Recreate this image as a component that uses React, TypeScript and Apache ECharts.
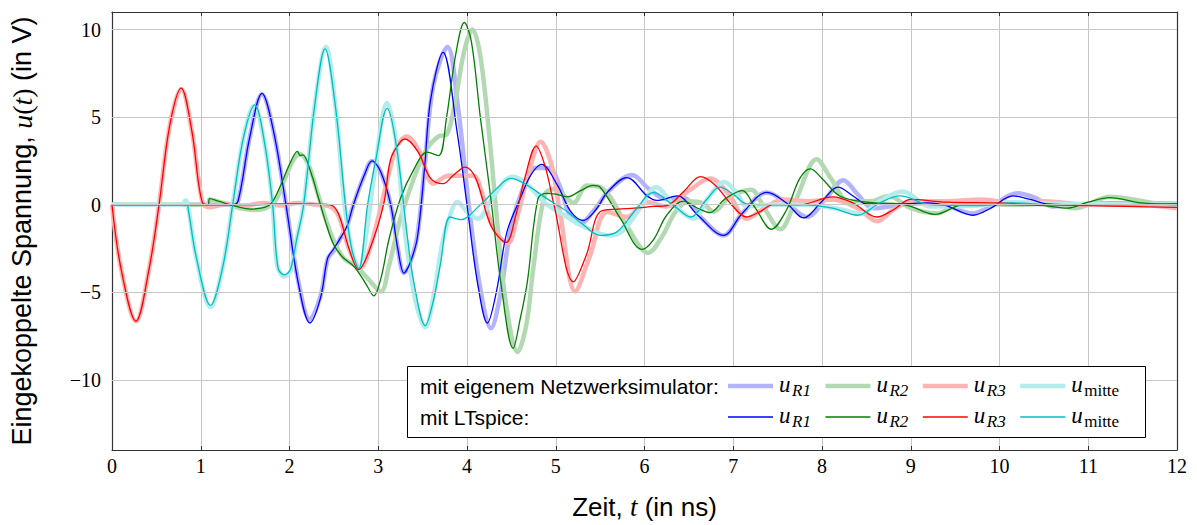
import React, { useEffect, useRef } from "react";
import * as echarts from "echarts";

// time in ns, voltage in V
const uR1Sim = [[0,0],[1.35,0],[1.42,0.2],[1.55,3.8],[1.69,6.3],[1.82,4.2],[1.96,0],[2.1,-4.4],[2.23,-6.55],[2.35,-5.2],[2.43,-3.1],[2.5,-2.6],[2.58,-1.85],[2.65,-1.2],[2.72,0],[2.84,1.65],[2.93,2.5],[3.03,1.85],[3.14,0],[3.22,-2.5],[3.29,-3.9],[3.36,-3.3],[3.44,-1.8],[3.52,2],[3.62,6.8],[3.78,9.0],[3.9,5.5],[4.02,0],[4.14,-4.5],[4.27,-7.05],[4.37,-5.3],[4.5,-1.2],[4.65,1.2],[4.75,2.1],[4.92,2.1],[5.05,1.0],[5.15,-0.5],[5.27,-1.1],[5.45,-0.2],[5.6,0.8],[5.86,1.7],[6.05,0.9],[6.25,0.3],[6.43,0.4],[6.65,-0.8],[6.89,-1.75],[7.1,-0.5],[7.38,0.7],[7.6,0.1],[7.83,-0.7],[8.05,0.4],[8.24,1.4],[8.4,0.6],[8.58,-0.2],[8.88,0],[9.2,0.1],[9.4,-0.05],[9.7,-0.5],[9.9,-0.1],[10.2,0.65],[10.4,0.4],[10.6,-0.1],[11,0.05],[11.5,0.1],[12,0.05]];
const uR2Sim = [[0,0],[1.08,0],[1.1,0.3],[1.25,0.1],[1.45,-0.2],[1.6,-0.3],[1.75,-0.15],[1.85,0.3],[1.95,1.5],[2.05,2.6],[2.12,2.9],[2.22,2.2],[2.32,0.6],[2.42,-1.0],[2.52,-2.3],[2.62,-3.1],[2.75,-3.5],[2.88,-4.2],[3.03,-4.95],[3.12,-3.5],[3.25,-0.8],[3.4,1.5],[3.55,3.2],[3.68,3.9],[3.77,4.0],[3.87,6.0],[3.97,8.8],[4.06,10.0],[4.15,8.5],[4.25,4.0],[4.35,-1.5],[4.45,-6.0],[4.57,-8.4],[4.67,-6.8],[4.75,-3.5],[4.88,0.6],[5.0,0.9],[5.1,0.5],[5.2,0.1],[5.35,1.1],[5.5,1.0],[5.62,0.4],[5.8,-1.2],[6.04,-2.75],[6.2,-1.8],[6.35,-0.4],[6.5,0.2],[6.65,0.1],[6.78,-0.4],[6.95,0.4],[7.2,0.85],[7.35,-0.2],[7.53,-1.4],[7.7,0.2],[7.94,2.6],[8.1,1.5],[8.3,0.2],[8.55,0.2],[8.75,0.5],[9.0,-0.2],[9.3,-0.5],[9.55,0.1],[9.8,0.05],[10.2,0],[10.6,0.05],[10.85,-0.2],[11.25,0.45],[11.5,0.3],[11.8,0.05],[12,0]];
const uR3Sim = [[0,0],[0.1,-3.6],[0.27,-6.65],[0.42,-3.6],[0.53,0],[0.65,4.5],[0.78,6.6],[0.9,4.2],[1.02,0.1],[1.1,-0.15],[1.3,0.05],[1.5,-0.05],[1.7,0.1],[1.9,-0.05],[2.1,0.1],[2.3,0],[2.45,-0.1],[2.55,-0.6],[2.67,-2.5],[2.8,-3.6],[2.9,-2.6],[3.05,0.3],[3.2,3.2],[3.32,3.9],[3.47,3.0],[3.62,1.2],[3.79,1.65],[3.93,1.65],[4.07,1.65],[4.18,0.5],[4.3,-1.35],[4.46,-2.2],[4.57,-0.6],[4.68,1.5],[4.83,3.6],[4.95,2.3],[5.05,-0.5],[5.22,-4.95],[5.38,-3.0],[5.58,-0.4],[5.8,-0.7],[6.03,0.15],[6.25,-0.1],[6.5,0.8],[6.74,1.5],[6.95,0.6],[7.15,-0.8],[7.35,-0.2],[7.56,0.3],[7.85,0.2],[8.12,0.3],[8.4,-0.2],[8.62,-0.95],[8.8,-0.3],[9.0,0.2],[9.4,0.2],[9.8,0.3],[10.2,0.05],[10.5,0.2],[11,0],[11.5,0],[12,-0.2]];
const uMitteSim = [[0,0],[0.78,0],[0.83,0.25],[0.86,-0.2],[0.95,-3.0],[1.11,-5.85],[1.25,-3.5],[1.36,0],[1.48,3.8],[1.6,5.65],[1.72,3.5],[1.81,0],[1.86,-3.4],[1.94,-4.1],[2.01,-3.8],[2.08,-2.0],[2.16,0],[2.28,5.5],[2.41,9.0],[2.52,5.5],[2.62,0],[2.7,-2.5],[2.78,-3.7],[2.87,-1.5],[2.95,1.5],[3.1,5.8],[3.2,3.6],[3.3,-1.5],[3.42,-5.5],[3.53,-7.0],[3.63,-5.0],[3.73,-2.0],[3.83,-0.3],[3.89,0.15],[4.0,-0.4],[4.12,-0.8],[4.3,0.5],[4.51,1.6],[4.65,1.3],[4.83,0.35],[4.9,0],[5.1,-0.6],[5.3,-1.2],[5.6,-1.75],[5.75,-1.5],[5.95,-0.2],[6.13,1.0],[6.33,0],[6.55,-0.8],[6.72,0.4],[6.9,1.3],[7.05,0.6],[7.15,-0.1],[7.4,0],[7.8,0],[8.15,-0.2],[8.44,-0.5],[8.65,0.2],[8.91,0.75],[9.22,-0.1],[9.75,-0.05],[10.15,0.15],[10.6,0.05],[12,0]];

const uR1Lt = [[0,0],[1.35,0],[1.42,0.2],[1.55,3.8],[1.69,6.35],[1.82,4.2],[1.96,0],[2.1,-4.5],[2.23,-6.75],[2.35,-5.3],[2.43,-3.05],[2.5,-2.5],[2.58,-1.85],[2.65,-1.2],[2.72,0],[2.84,1.65],[2.93,2.5],[3.03,1.85],[3.14,0],[3.22,-2.5],[3.29,-3.9],[3.36,-3.3],[3.44,-1.9],[3.52,2],[3.59,6],[3.73,8.7],[3.89,4.1],[4.0,0],[4.12,-4.5],[4.23,-6.75],[4.33,-5.0],[4.45,-1.55],[4.6,0.35],[4.72,1.7],[4.84,2.3],[5.02,1.1],[5.17,-0.4],[5.31,-0.9],[5.45,-0.3],[5.58,0.7],[5.8,1.55],[6.03,0.5],[6.14,0.25],[6.37,0.5],[6.6,-0.6],[6.89,-1.75],[7.1,-0.5],[7.38,0.7],[7.6,0.1],[7.79,-0.75],[8.0,0.2],[8.18,1.0],[8.35,0.5],[8.5,0.05],[8.88,0.05],[9.2,0.1],[9.4,-0.05],[9.7,-0.6],[9.9,-0.2],[10.15,0.5],[10.35,0.3],[10.53,0.05],[11,0],[12,0.05]];
const uR2Lt = [[0,0],[1.08,0],[1.1,0.35],[1.2,0.2],[1.4,-0.1],[1.56,-0.25],[1.72,-0.15],[1.8,0.1],[1.9,1.1],[2.0,2.3],[2.09,3.05],[2.12,2.8],[2.15,2.85],[2.25,1.7],[2.32,0.5],[2.42,-1.2],[2.5,-2.3],[2.6,-3.0],[2.7,-3.4],[2.77,-3.8],[2.87,-4.6],[2.95,-5.2],[3.03,-4.2],[3.12,-2.0],[3.25,0.35],[3.4,2.0],[3.55,3.0],[3.68,2.8],[3.77,5.0],[3.87,8.5],[3.97,10.4],[4.05,9.3],[4.15,5.0],[4.27,0.3],[4.38,-4.4],[4.52,-8.2],[4.6,-6.5],[4.68,-4.4],[4.8,0.35],[4.9,0.65],[5.0,0.6],[5.13,0.45],[5.28,0.8],[5.42,1.1],[5.5,1.0],[5.73,-0.8],[5.97,-2.55],[6.1,-2.0],[6.25,-0.6],[6.44,0.2],[6.6,-0.2],[6.74,-0.45],[6.9,0.3],[7.1,0.8],[7.25,-0.2],[7.43,-1.4],[7.6,-0.3],[7.75,1.5],[7.87,2.05],[8.0,1.5],[8.2,0.5],[8.5,0.15],[8.88,0.05],[9.0,-0.1],[9.27,-0.55],[9.6,0],[10,0],[10.5,-0.05],[10.76,-0.2],[11.0,0.15],[11.24,0.4],[11.6,0.1],[12,0]];
const uR3Lt = [[0,0],[0.1,-3.6],[0.27,-6.65],[0.42,-3.6],[0.53,0],[0.65,4.5],[0.78,6.65],[0.9,4.2],[1.02,0.1],[1.1,0],[1.5,0],[2.0,0.05],[2.45,0],[2.55,-0.5],[2.67,-2.5],[2.78,-3.7],[2.9,-2.6],[3.06,0],[3.14,2.6],[3.25,3.6],[3.3,3.75],[3.45,3.0],[3.59,1.5],[3.73,1.2],[3.85,1.7],[3.98,2.15],[4.1,1.5],[4.27,-1.2],[4.44,-2.15],[4.55,-0.6],[4.65,1.5],[4.78,3.35],[4.88,2.2],[4.98,0],[5.2,-4.4],[5.35,-2.8],[5.5,-0.4],[5.7,-0.25],[5.88,-0.2],[6.1,-0.1],[6.25,-0.05],[6.45,0.8],[6.63,1.6],[6.8,1.1],[6.98,0],[7.15,-0.7],[7.3,-0.4],[7.45,0],[7.75,0],[8.12,0.45],[8.35,0.1],[8.62,-0.7],[8.8,-0.3],[9.0,0.3],[9.4,0.15],[10,0.1],[10.5,0],[11,-0.05],[12,-0.15]];
const uMitteLt = [[0,0],[0.84,0],[0.86,-0.3],[0.95,-3.0],[1.11,-5.75],[1.25,-3.5],[1.36,0],[1.48,3.8],[1.61,5.7],[1.72,3.5],[1.81,0],[1.87,-3.6],[1.94,-4.0],[2.01,-3.7],[2.08,-2.0],[2.16,0],[2.28,5.5],[2.4,8.9],[2.52,5.5],[2.63,0],[2.7,-2.5],[2.78,-3.65],[2.88,0],[2.97,2.5],[3.1,5.5],[3.2,3.5],[3.33,-1.9],[3.4,-4.4],[3.53,-6.9],[3.62,-5.5],[3.7,-3.4],[3.81,-0.7],[3.93,-0.85],[4.15,0],[4.35,1.0],[4.49,1.5],[4.65,1.2],[4.9,0.35],[5.13,-0.4],[5.3,-1.1],[5.5,-1.75],[5.69,-1.55],[5.9,-0.3],[6.1,0.7],[6.33,-0.05],[6.52,-0.7],[6.7,0.3],[6.85,1.0],[7.0,0.6],[7.15,0.05],[7.38,0],[7.75,0],[8.12,-0.2],[8.4,-0.6],[8.65,0.1],[8.88,0.5],[9.22,0],[9.75,-0.05],[10.15,0.1],[10.6,0],[12,0]];

const xTicks = [0,1,2,3,4,5,6,7,8,9,10,11,12];
const yTicks = [-10,-5,0,5,10];
const legendSubs = ["R1", "R2", "R3", "mitte"];
const rowLabels = ["mit eigenem Netzwerksimulator:", "mit LTspice:"];

const thinColors = ["#0000ff", "#008000", "#ff0000", "#00bfbf"];
const thickColors = ["#b3b3ff", "#b3d9b3", "#ffb3b3", "#b3ecec"];

const SANS = "'Liberation Sans', Arial, sans-serif";
const SERIF = "'Liberation Serif', 'DejaVu Serif', serif";

export default function App() {
  const ref = useRef<HTMLDivElement>(null);
  useEffect(() => {
    if (!ref.current) return;
    const chart = echarts.init(ref.current, null, { renderer: "svg" });
    const simData = [uR1Sim, uR2Sim, uR3Sim, uMitteSim];
    const ltData = [uR1Lt, uR2Lt, uR3Lt, uMitteLt];
    const series: any[] = [];
    // horizontal grid lines at the y tick values
    series.push({
      name: "ygrid",
      type: "line",
      data: [],
      silent: true,
      z: 1,
      markLine: {
        silent: true,
        symbol: ["none", "none"],
        label: { show: false },
        lineStyle: { color: "#c6c6c6", width: 1, type: "solid" },
        data: yTicks.map((v) => ({ yAxis: v })),
      },
    });
    simData.forEach((d, i) => {
      series.push({
        name: "sim " + legendSubs[i],
        type: "line",
        data: d,
        showSymbol: false,
        smooth: 0.35,
        lineStyle: { color: thickColors[i], width: 4.5 },
        itemStyle: { color: thickColors[i] },
        z: 2,
      });
    });
    ltData.forEach((d, i) => {
      series.push({
        name: "lt " + legendSubs[i],
        type: "line",
        data: d,
        showSymbol: false,
        smooth: 0.35,
        lineStyle: { color: thinColors[i], width: 1.3 },
        itemStyle: { color: thinColors[i] },
        z: 3,
      });
    });

    const graphic: any[] = [];
    graphic.push({
      type: "rect",
      shape: { x: 407.5, y: 366.5, width: 738, height: 71 },
      style: { fill: "#ffffff", stroke: "#000000", lineWidth: 1 },
      z: 10,
    });
    const rowY = [386, 417];
    rowLabels.forEach((t, r) => {
      graphic.push({
        type: "text",
        x: 420,
        y: rowY[r],
        style: { text: t, font: `21px ${SANS}`, fill: "#000", textAlign: "left", textVerticalAlign: "middle" },
        z: 11,
      });
    });
    legendSubs.forEach((s, i) => {
      const x0 = 728 + 97.4 * i;
      [0, 1].forEach((r) => {
        graphic.push({
          type: "line",
          shape: { x1: x0, y1: rowY[r], x2: x0 + 45, y2: rowY[r] },
          style: { stroke: r === 0 ? thickColors[i] : thinColors[i], lineWidth: r === 0 ? 4.5 : 1.3 },
          z: 11,
        });
        graphic.push({
          type: "text",
          x: x0 + 51,
          y: rowY[r] - 2,
          style: { text: "u", font: `italic 23px ${SERIF}`, fill: "#000", textAlign: "left", textVerticalAlign: "middle" },
          z: 11,
        });
        graphic.push({
          type: "text",
          x: x0 + 64,
          y: rowY[r] + 4,
          style: {
            text: s,
            font: `${s === "mitte" ? "" : "italic "}17px ${SERIF}`,
            fill: "#000",
            textAlign: "left",
            textVerticalAlign: "middle",
          },
          z: 11,
        });
      });
    });

    const option: any = {
      animation: false,
      backgroundColor: "#ffffff",
      grid: { left: 111, right: 20, top: 12, bottom: 62, containLabel: false },
      xAxis: [
        {
          type: "value",
          min: 0,
          max: 12,
          interval: 1,
          position: "bottom",
          axisLine: { show: true, onZero: false, lineStyle: { color: "#333", width: 1.2 } },
          axisTick: { show: true, inside: true, length: 4, lineStyle: { color: "#333" } },
          axisLabel: {
            fontFamily: SERIF,
            fontSize: 20,
            color: "#000",
            margin: 6,
            formatter: (v: number) => (xTicks.includes(v) ? String(v) : ""),
          },
          splitLine: { show: true, lineStyle: { color: "#c6c6c6", width: 1 } },
          name: "{a|Zeit, }{m|t}{a| (in ns)}",
          nameLocation: "middle",
          nameGap: 43,
          nameTextStyle: {
            rich: {
              a: { fontFamily: SANS, fontSize: 26, color: "#000" },
              m: { fontFamily: SERIF, fontStyle: "italic", fontSize: 27, color: "#000" },
            },
          },
        },
        {
          type: "value",
          min: 0,
          max: 12,
          interval: 1,
          position: "top",
          axisLine: { show: true, onZero: false, lineStyle: { color: "#333", width: 1.2 } },
          axisTick: { show: true, inside: true, length: 4, lineStyle: { color: "#333" } },
          axisLabel: { show: false },
          splitLine: { show: false },
        },
      ],
      yAxis: [
        {
          type: "value",
          min: -14,
          max: 11,
          interval: 1,
          position: "left",
          axisLine: { show: true, onZero: false, lineStyle: { color: "#333", width: 1.2 } },
          axisTick: { show: false },
          axisLabel: {
            fontFamily: SERIF,
            fontSize: 20,
            color: "#000",
            margin: 11,
            formatter: (v: number) => (yTicks.includes(v) ? String(v).replace("-", "\u2212") : ""),
          },
          splitLine: { show: false },
          name: "{a|Eingekoppelte Spannung, }{m|u}{p|(}{m|t}{p|)}{a| (in V)}",
          nameLocation: "middle",
          nameRotate: 90,
          nameGap: 76,
          nameTextStyle: {
            rich: {
              a: { fontFamily: SANS, fontSize: 27, color: "#000" },
              m: { fontFamily: SERIF, fontStyle: "italic", fontSize: 28, color: "#000" },
              p: { fontFamily: SERIF, fontSize: 28, color: "#000" },
            },
          },
        },
        {
          type: "value",
          min: -14,
          max: 11,
          interval: 1,
          position: "right",
          axisLine: { show: true, onZero: false, lineStyle: { color: "#333", width: 1.2 } },
          axisTick: { show: false },
          axisLabel: { show: false },
          splitLine: { show: false },
        },
      ],
      series,
      graphic,
    };
    chart.setOption(option);
    return () => chart.dispose();
  }, []);
  return (
    <div
      ref={ref}
      style={{ position: "absolute", left: 0, top: 0, width: 1197, height: 525, background: "#fff" }}
    />
  );
}
